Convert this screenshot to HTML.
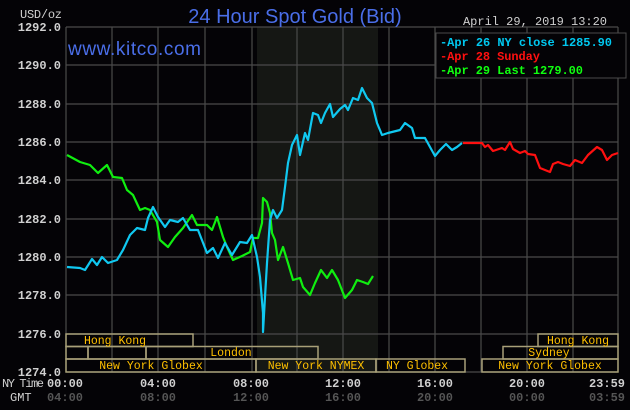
<!DOCTYPE html>
<html><head><meta charset="utf-8"><style>
html,body{margin:0;padding:0;background:#040306;}
svg{display:block}
text{font-family:"Liberation Mono","DejaVu Sans Mono",monospace;}
</style></head><body>
<svg width="630" height="410" viewBox="0 0 630 410" xmlns="http://www.w3.org/2000/svg">
<rect width="630" height="410" fill="#040306"/>
<rect x="257" y="27" width="121" height="345" fill="#151714"/>
<g stroke="#4a4a4a" stroke-width="1.2">
<line x1="66" y1="27" x2="618" y2="27"/><line x1="66" y1="65" x2="618" y2="65"/><line x1="66" y1="104" x2="618" y2="104"/><line x1="66" y1="142" x2="618" y2="142"/><line x1="66" y1="180" x2="618" y2="180"/><line x1="66" y1="219" x2="618" y2="219"/><line x1="66" y1="257" x2="618" y2="257"/><line x1="66" y1="295" x2="618" y2="295"/><line x1="66" y1="334" x2="618" y2="334"/><line x1="66" y1="372" x2="618" y2="372"/>
<line x1="66" y1="27" x2="66" y2="372"/><line x1="112" y1="27" x2="112" y2="372"/><line x1="158" y1="27" x2="158" y2="372"/><line x1="205" y1="27" x2="205" y2="372"/><line x1="252" y1="27" x2="252" y2="372"/><line x1="297" y1="27" x2="297" y2="372"/><line x1="343" y1="27" x2="343" y2="372"/><line x1="389" y1="27" x2="389" y2="372"/><line x1="435" y1="27" x2="435" y2="372"/><line x1="481" y1="27" x2="481" y2="372"/><line x1="527" y1="27" x2="527" y2="372"/><line x1="573" y1="27" x2="573" y2="372"/><line x1="618" y1="27" x2="618" y2="372"/>
</g>
<rect x="436" y="33" width="190" height="45" fill="#040306" stroke="#4a4a4a"/>
<text x="440" y="46" font-size="12" fill="#00c8f0" font-weight="bold" textLength="172">-Apr 26 NY close 1285.90</text>
<text x="440" y="60" font-size="12" fill="#ff1010" font-weight="bold" textLength="100">-Apr 28 Sunday</text>
<text x="440" y="74" font-size="12" fill="#10ff10" font-weight="bold" textLength="143">-Apr 29 Last 1279.00</text>
<text x="68" y="55" font-size="19" fill="#4a6ee8" style="font-family:'Liberation Sans',sans-serif" textLength="133">www.kitco.com</text>
<text x="295" y="23" font-size="20" fill="#4a6ee8" text-anchor="middle" style="font-family:'Liberation Sans',sans-serif">24 Hour Spot Gold (Bid)</text>
<text x="20" y="18" font-size="12" fill="#d0d0d0" textLength="42">USD/oz</text>
<text x="607" y="25" font-size="12" fill="#d0d0d0" text-anchor="end">April 29, 2019 13:20</text>
<g font-size="12" fill="#d0d0d0" text-anchor="end" font-weight="bold">
<text x="61" y="31">1292.0</text><text x="61" y="69">1290.0</text><text x="61" y="108">1288.0</text><text x="61" y="146">1286.0</text><text x="61" y="184">1284.0</text><text x="61" y="223">1282.0</text><text x="61" y="261">1280.0</text><text x="61" y="299">1278.0</text><text x="61" y="338">1276.0</text><text x="61" y="376">1274.0</text>
</g>
<g fill="none" stroke-width="2.2" stroke-linejoin="round">
<polyline stroke="#10ee10" points="67,155 80,162 90,165 98,173 107,165 113,177 122,178 127,190 133,195 140,210 145,208 150,210 157,222 160,240 168,247 175,237 183,228 192,215 197,225 207,225 212,230 217,217 223,237 227,247 233,260 242,256 250,252 253,238 258,238 262,223 263,198 267,202 270,213 272,233 275,240 278,260 283,247 288,263 293,280 300,278 303,287 310,295 315,283 321,270 327,278 332,270 338,280 345,298 352,290 357,280 363,282 368,284 373,276"/>
<polyline stroke="#10c8f0" points="67,267 80,268 85,270 92,259 97,265 102,257 108,263 117,260 123,250 130,235 137,228 145,230 148,218 153,207 158,217 165,227 170,220 178,222 183,218 190,230 198,230 207,253 213,248 218,258 225,243 232,255 240,242 247,243 252,235 257,257 260,277 263,313 263,332 265,297 267,263 270,220 273,210 277,218 282,210 285,187 288,163 292,145 297,135 300,155 305,133 308,140 313,113 318,115 321,123 325,113 330,104 333,117 340,109 345,105 348,110 353,98 358,100 362,88 367,98 372,103 377,123 382,135 388,133 400,130 405,123 412,128 415,138 425,138 430,147 435,156 440,150 446,144 452,150 457,147 462,143"/>
<polyline stroke="#ff1010" points="463,143 482,143 485,147 488,145 493,151 502,148 505,150 510,142 513,149 520,153 525,151 528,154 535,155 540,168 550,172 553,164 558,162 563,164 570,166 575,160 582,163 588,155 597,147 602,150 607,160 612,155 618,153"/>
</g>
<g fill="none" stroke="#a8a078" stroke-width="1.5">
<rect x="66" y="334" width="127" height="12.5"/>
<rect x="538" y="334" width="80" height="12.5"/>
<rect x="66" y="346.5" width="22" height="12.5"/><rect x="88" y="346.5" width="58" height="12.5"/><rect x="146" y="346.5" width="172" height="12.5"/>
<rect x="503" y="346.5" width="115" height="12.5"/>
<rect x="66" y="359" width="190" height="13"/><rect x="256" y="359" width="120" height="13"/><rect x="376" y="359" width="89" height="13"/><rect x="482" y="359" width="136" height="13"/>
</g>
<g font-size="11.5" fill="#ffc000" text-anchor="middle">
<text x="115" y="344">Hong Kong</text><text x="578" y="344">Hong Kong</text>
<text x="231" y="356">London</text><text x="549" y="356">Sydney</text>
<text x="151" y="369">New York Globex</text><text x="316" y="369">New York NYMEX</text><text x="417" y="369">NY Globex</text><text x="550" y="369">New York Globex</text>
</g>
<text x="2" y="387" font-size="12" fill="#d0d0d0" textLength="42">NY Time</text>
<text x="10" y="401" font-size="12" fill="#d0d0d0">GMT</text>
<g font-size="12" fill="#d0d0d0" text-anchor="middle" font-weight="bold">
<text x="65" y="387">00:00</text><text x="158" y="387">04:00</text><text x="251" y="387">08:00</text><text x="343" y="387">12:00</text><text x="435" y="387">16:00</text><text x="527" y="387">20:00</text><text x="607" y="387">23:59</text>
</g>
<g font-size="12" fill="#555" text-anchor="middle" font-weight="bold">
<text x="65" y="401">04:00</text><text x="158" y="401">08:00</text><text x="251" y="401">12:00</text><text x="343" y="401">16:00</text><text x="435" y="401">20:00</text><text x="527" y="401">00:00</text><text x="607" y="401">03:59</text>
</g>
</svg>
</body></html>
